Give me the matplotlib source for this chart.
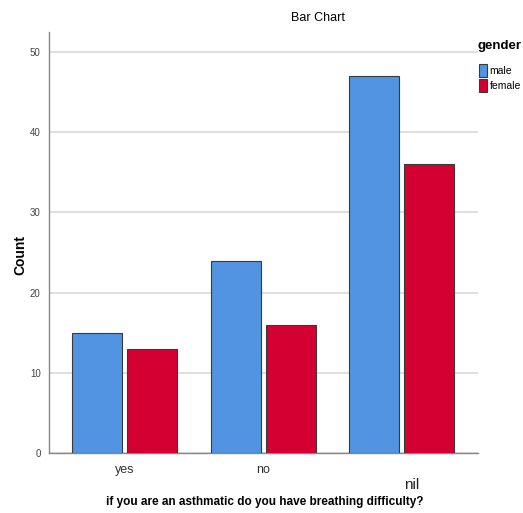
import numpy as np
import matplotlib.pyplot as plt

# Counts
categories = ['yes', 'no', 'nil']
male = [15, 24, 47]
female = [13, 16, 36]
yticks = [0, 10, 20, 30, 40, 50]

plt.rcParams['font.family'] = ['Liberation Sans Narrow', 'Liberation Sans', 'DejaVu Sans']

fig = plt.figure(figsize=(5.23, 5.13), dpi=100)
ax = fig.add_axes([49 / 523, 1 - 453 / 513, (478 - 49) / 523, (453 - 32) / 513])

x = np.arange(len(categories))
w = 0.36
ax.bar(x - w / 2 - 0.018, male, w, color='#5294E2', edgecolor='#3a3a3a', linewidth=0.8,
       label='male', zorder=3)
ax.bar(x + w / 2 + 0.018, female, w, color='#D50032', edgecolor='#3a3a3a', linewidth=0.8,
       label='female', zorder=3)

ax.set_xlim(-0.545, 2.55)
ax.set_ylim(0, 52.5)
ax.set_yticks(yticks)
ax.set_yticklabels([str(t) for t in yticks], fontsize=7, color='#444444')
ax.grid(axis='y', color='#d9d9d9', linewidth=1.2, zorder=0)
ax.tick_params(axis='both', length=0, pad=6)
ax.set_xticks(x[:2])
ax.set_xticklabels(categories[:2], fontsize=9, color='#333333')
ax.tick_params(axis='x', pad=8)
# the "nil" label sits lower and larger in the original
ax.text(x[2] + 0.07, -3.1, categories[2], fontsize=11, color='#222222',
        ha='center', va='top')

for side in ['top', 'right']:
    ax.spines[side].set_visible(False)
for side in ['left', 'bottom']:
    ax.spines[side].set_color('#888888')
    ax.spines[side].set_linewidth(1.0)

fig.text(20 / 523, 1 - 255 / 513, 'Count', fontsize=10, fontweight='bold',
         rotation=90, ha='center', va='center')
fig.text(265 / 523, 1 - 502 / 513, 'if you are an asthmatic do you have breathing difficulty?',
         fontsize=8.5, fontweight='bold', ha='center', va='center')
fig.text(318 / 523, 1 - 18 / 513, 'Bar Chart', fontsize=9, ha='center', va='center')

# legend title placed separately, SPSS leaves a big gap under it
fig.text(477 / 523, 1 - 46 / 513, 'gender', fontsize=9.5, fontweight='bold',
         ha='left', va='center')
leg = fig.legend(loc='upper left', bbox_to_anchor=(479 / 523, 1 - 64 / 513), frameon=False,
                 fontsize=7.5, handlelength=0.8, handleheight=1.5,
                 handletextpad=0.2, labelspacing=0.2, borderaxespad=0, borderpad=0)

fig.savefig('out.png', dpi=100)
